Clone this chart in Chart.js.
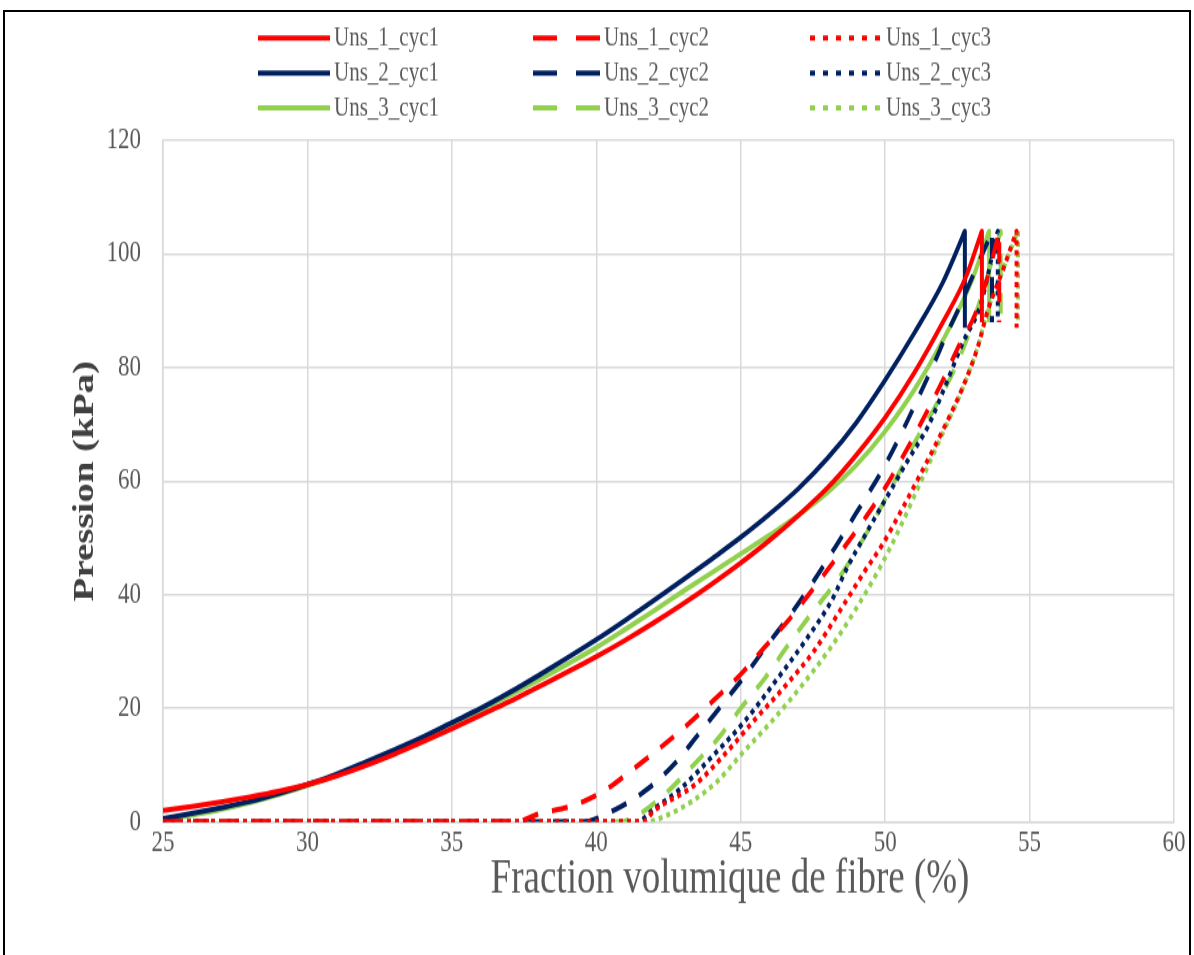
<!DOCTYPE html>
<html>
<head>
<meta charset="utf-8">
<title>Pression - fraction volumique de fibre</title>
<script src="https://cdn.jsdelivr.net/npm/chart.js@4.4.1/dist/chart.umd.min.js"></script>
<style>
  html, body { margin: 0; padding: 0; background: #fff; overflow: hidden; }
  #frame { position: absolute; left: 3px; top: 10px; width: 1188px; height: 950px; border: 2px solid #000; border-bottom: none; box-sizing: border-box; }
  /* the source figure is stretched vertically, so the chart is drawn short and scaled up */
  #wrap { position: absolute; left: 0; top: 0; width: 1194px; height: 735px; transform: scaleY(1.2993); transform-origin: 0 0; }
</style>
</head>
<body>
<div id="frame"></div>
<div id="wrap"><canvas id="chart"></canvas></div>
<script>
// tick labels
const xTicks = [25, 30, 35, 40, 45, 50, 55, 60];
const yTicks = [0, 20, 40, 60, 80, 100, 120];

// series names (rows = sample, columns = cycle)
const seriesNames = ['Uns_1_cyc1', 'Uns_1_cyc2', 'Uns_1_cyc3',
                     'Uns_2_cyc1', 'Uns_2_cyc2', 'Uns_2_cyc3',
                     'Uns_3_cyc1', 'Uns_3_cyc2', 'Uns_3_cyc3'];

// fibre volume fraction (%) / pressure (kPa)
const uns1Cyc1X = [25, 26, 27, 28, 29, 30, 31, 32, 33, 34, 35, 36, 37, 38, 39, 40, 41, 42, 43, 44, 45, 46, 47, 48, 49, 50, 51, 52, 52.8, 53.28, 53.35, 53.35];
const uns1Cyc1Y = [2.0, 2.7, 3.5, 4.4, 5.4, 6.6, 8.1, 9.9, 11.9, 14.1, 16.4, 18.8, 21.2, 23.8, 26.4, 29.1, 32.0, 35.1, 38.4, 41.9, 45.6, 49.6, 54.0, 58.8, 64.6, 71.2, 79.0, 88.0, 96.0, 103, 104, 88];

const uns1Cyc2X = [25, 37.2, 38.0, 39.2, 40.3, 41.3, 42.2, 43.2, 44.1, 45.0, 45.8, 46.7, 47.5, 48.3, 49.1, 49.9, 50.6, 51.3, 52.0, 52.6, 53.1, 53.55, 53.9, 53.95, 53.95];
const uns1Cyc2Y = [0, 0, 1.4, 2.9, 5.6, 9.4, 13.0, 17.3, 21.6, 26.0, 30.6, 35.8, 41.0, 46.4, 52.0, 58.0, 64.2, 70.8, 77.8, 84.3, 89.2, 96.0, 103, 104, 88];

const uns1Cyc3X = [25, 41.6, 42.0, 43.4, 44.55, 45.45, 46.5, 47.55, 48.45, 49.25, 49.9, 50.6, 51.3, 52.0, 52.7, 53.2, 53.55, 54.1, 54.48, 54.55, 54.55];
const uns1Cyc3Y = [0, 0, 2.0, 6.5, 12.5, 17.8, 23.7, 30.2, 37.3, 43.8, 48.8, 55.2, 62.0, 69.0, 76.7, 83.5, 90.0, 97.5, 103, 104, 87];

const uns2Cyc1X = [25, 26, 27, 28, 29, 30, 31, 32, 33, 34, 35, 36, 37, 38, 39, 40, 41, 42, 43, 44, 45, 46, 47, 48, 49, 50, 51, 52, 52.68, 52.76, 52.76];
const uns2Cyc1Y = [0.6, 1.5, 2.5, 3.6, 5.0, 6.6, 8.4, 10.5, 12.7, 15.0, 17.5, 20.0, 22.8, 25.8, 28.9, 32.1, 35.5, 39.0, 42.6, 46.3, 50.1, 54.2, 58.7, 64.0, 70.3, 77.8, 86.0, 95.0, 103, 104, 87];

const uns2Cyc2X = [25, 39.5, 40.7, 41.8, 42.7, 43.5, 44.3, 45.2, 45.85, 46.75, 47.55, 48.25, 48.95, 49.85, 50.5, 51.1, 51.7, 52.1, 52.6, 53.15, 53.62, 53.7, 53.7];
const uns2Cyc2Y = [0, 0, 2.3, 5.9, 10.2, 15.2, 20.3, 26.1, 30.7, 36.7, 42.6, 48.2, 54.0, 61.5, 67.8, 74.2, 80.8, 85.5, 91.0, 97.5, 103, 104, 88];

const uns2Cyc3X = [25, 41.4, 42.0, 42.9, 44.1, 45.15, 46.15, 47.25, 48.15, 48.7, 49.35, 50.15, 50.8, 51.5, 52.1, 52.7, 53.3, 53.85, 53.9, 53.9];
const uns2Cyc3Y = [0, 0, 2.3, 5.8, 12.0, 17.8, 24.4, 32.0, 39.0, 44.9, 50.9, 58.0, 63.8, 69.8, 77.0, 84.5, 91.0, 103, 104, 88];

const uns3Cyc1X = [25, 26, 27, 28, 29, 30, 31, 32, 33, 34, 35, 36, 37, 38, 39, 40, 41, 42, 43, 44, 45, 46, 47, 48, 49, 50, 51, 52, 53, 53.53, 53.6, 53.6];
const uns3Cyc1Y = [0.3, 1.2, 2.2, 3.4, 4.8, 6.4, 8.2, 10.2, 12.4, 14.8, 17.2, 19.7, 22.3, 25.0, 27.8, 30.7, 33.9, 37.2, 40.6, 43.9, 47.2, 50.5, 54.0, 58.0, 62.8, 68.8, 76.0, 84.8, 95.3, 103, 104, 88];

const uns3Cyc2X = [25, 40.8, 41.5, 42.4, 43.4, 44.2, 45.0, 45.85, 46.65, 47.45, 48.35, 48.95, 49.65, 50.3, 51.0, 51.7, 52.4, 52.9, 53.45, 53.94, 54.0, 54.0];
const uns3Cyc2Y = [0, 0, 1.4, 5.0, 10.2, 14.6, 20.0, 25.4, 31.2, 36.7, 42.6, 47.3, 53.5, 59.7, 66.6, 72.8, 79.7, 86.0, 94.5, 103, 104, 88];

const uns3Cyc3X = [25, 41.7, 42.5, 43.3, 44.2, 45.0, 46.05, 47.05, 48.1, 49.0, 49.8, 50.4, 51.2, 52.0, 52.7, 53.2, 53.55, 54.1, 54.52, 54.6, 54.6];
const uns3Cyc3Y = [0, 0, 1.3, 3.6, 7.2, 11.8, 17.6, 23.6, 30.6, 37.6, 44.6, 50.6, 59.5, 68.5, 76.5, 83.5, 90.0, 97.5, 103, 104, 88];

const red = '#ff0000';
const navy = '#002060';
const green = '#92d050';

function toPoints(xs, ys) {
    return xs.map((x, i) => ({ x: x, y: ys[i] }));
}

function makeSet(name, xs, ys, color, cycle) {
    const dash = cycle === 1 ? [] : (cycle === 2 ? [16, 14] : [4, 4]);
    return {
        label: name,
        data: toPoints(xs, ys),
        showLine: true,
        fill: false,
        borderColor: color,
        backgroundColor: color,
        borderWidth: 4,
        borderDash: dash,
        borderCapStyle: 'butt',
        borderJoinStyle: 'round',
        pointRadius: 0,
        cubicInterpolationMode: 'monotone'
    };
}

const datasets = [
    makeSet(seriesNames[0], uns1Cyc1X, uns1Cyc1Y, red, 1),
    makeSet(seriesNames[1], uns1Cyc2X, uns1Cyc2Y, red, 2),
    makeSet(seriesNames[2], uns1Cyc3X, uns1Cyc3Y, red, 3),
    makeSet(seriesNames[3], uns2Cyc1X, uns2Cyc1Y, navy, 1),
    makeSet(seriesNames[4], uns2Cyc2X, uns2Cyc2Y, navy, 2),
    makeSet(seriesNames[5], uns2Cyc3X, uns2Cyc3Y, navy, 3),
    makeSet(seriesNames[6], uns3Cyc1X, uns3Cyc1Y, green, 1),
    makeSet(seriesNames[7], uns3Cyc2X, uns3Cyc2Y, green, 2),
    makeSet(seriesNames[8], uns3Cyc3X, uns3Cyc3Y, green, 3)
];

// 3x3 legend above the plot and the x axis title, drawn on the canvas
const gridLegend = {
    id: 'gridLegend',
    afterDraw(chart) {
        const ctx = chart.ctx;
        const sampleX = [258, 533, 810];
        const sampleW = [72, 67, 72];
        const rowY = [29.2, 56.2, 83.1];
        const legendDash = [[], [24, 19], [5, 8]];
        ctx.save();
        chart.data.datasets.forEach((ds, i) => {
            const row = Math.floor(i / 3);
            const col = i % 3;
            const y = rowY[row];
            ctx.beginPath();
            ctx.setLineDash(legendDash[col]);
            ctx.lineCap = 'butt';
            ctx.strokeStyle = ds.borderColor;
            ctx.lineWidth = 4;
            ctx.moveTo(sampleX[col], y);
            ctx.lineTo(sampleX[col] + sampleW[col], y);
            ctx.stroke();
            ctx.setLineDash([]);
            ctx.fillStyle = '#595959';
            ctx.font = '21px "Liberation Serif"';
            ctx.textAlign = 'left';
            ctx.textBaseline = 'middle';
            ctx.fillText(ds.label, sampleX[col] + sampleW[col] + 4, y);
        });
        ctx.fillStyle = '#595959';
        ctx.font = '37px "Liberation Serif"';
        ctx.textAlign = 'center';
        ctx.textBaseline = 'middle';
        ctx.fillText('Fraction volumique de fibre (%)', 730, 677);
        ctx.restore();
    }
};

new Chart(document.getElementById('chart'), {
    type: 'scatter',
    data: { datasets: datasets },
    options: {
        responsive: true,
        maintainAspectRatio: false,
        animation: false,
        devicePixelRatio: 1,
        layout: { padding: { top: 108, right: 20, left: 0, bottom: 0 } },
        plugins: {
            legend: { display: false },
            tooltip: { enabled: false }
        },
        scales: {
            x: {
                type: 'linear',
                min: 25,
                max: 60,
                afterBuildTicks: function (scale) {
                    scale.ticks = xTicks.map(v => ({ value: v }));
                },
                afterFit: function (scale) {
                    scale.height = 102.4;
                },
                ticks: {
                    color: '#595959',
                    font: { family: 'Liberation Serif', size: 23 },
                    padding: 3,
                    maxRotation: 0
                },
                grid: { color: '#d9d9d9', lineWidth: 1.5, drawTicks: false },
                border: { color: '#d9d9d9', width: 1.5 }
            },
            y: {
                type: 'linear',
                min: 0,
                max: 120,
                afterBuildTicks: function (scale) {
                    scale.ticks = yTicks.map(v => ({ value: v }));
                },
                afterFit: function (scale) {
                    scale.width = 163;
                },
                ticks: {
                    color: '#595959',
                    font: { family: 'Liberation Serif', size: 23 },
                    padding: 22
                },
                grid: { color: '#d9d9d9', lineWidth: 1.5, drawTicks: false },
                border: { color: '#d9d9d9', width: 1.5 },
                title: {
                    display: true,
                    text: 'Pression (kPa)',
                    color: '#404040',
                    font: { family: 'Liberation Serif', size: 30, weight: 'bold' },
                    padding: { top: 67, bottom: 0 }
                }
            }
        }
    },
    plugins: [gridLegend]
});
</script>
</body>
</html>
